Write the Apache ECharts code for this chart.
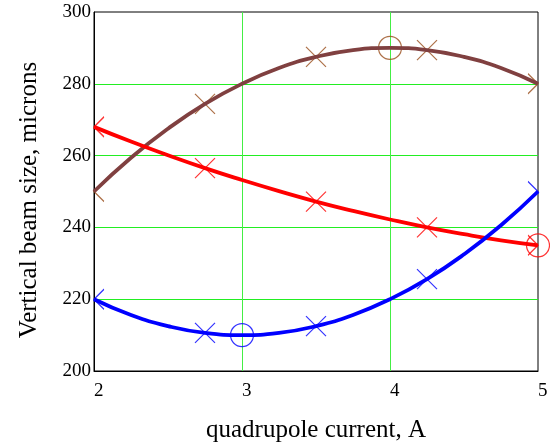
<!DOCTYPE html>
<html>
<head>
<meta charset="utf-8">
<script src="https://cdn.jsdelivr.net/npm/echarts@6/dist/echarts.min.js"></script>
<style>
  html, body { margin: 0; padding: 0; background: #fff; }
  #chart { width: 550px; height: 443px; }
</style>
</head>
<body>
<div id="chart"></div>
<script>
// curve samples, every 0.25 A
const current = [2, 2.25, 2.5, 2.75, 3, 3.25, 3.5, 3.75, 4, 4.25, 4.5, 4.75, 5];
const brownSize = [250, 259.4, 267.5, 274.4, 280, 284.4, 287.5, 289.4, 290, 289.4, 287.5, 284.4, 280];
const redSize = [268, 263.9, 260.1, 256.5, 253.2, 250.1, 247.2, 244.6, 242.2, 240, 238.1, 236.4, 235];
const blueSize = [220, 215.6, 212.5, 210.6, 210, 210.6, 212.5, 215.6, 220, 225.6, 232.5, 240.6, 250];

// cross markers
const markCurrent = [2, 2.75, 3.5, 4.25, 5];
const brownMarks = [250, 274.4, 287.5, 289.4, 280];
const redMarks = [268, 256.5, 247.2, 240, 235];
const blueMarks = [220, 210.6, 212.5, 225.6, 250];

// circled extreme points [current, size]
const brownExt = [4, 290];
const redExt = [5, 235];
const blueExt = [3, 210];

const yTicks = [200, 220, 240, 260, 280, 300];

const FONT = "'Liberation Serif', 'Times New Roman', serif";
const CROSS = 'path://M0,0L20,20M20,0L0,20';
const LEFT_HALF = 'path://M10,0L0,10L10,20';
const RIGHT_HALF = 'path://M0,0L10,10L0,20';

const zip = (xs, ys) => xs.map((x, i) => [x, ys[i]]);

function curve(ys, color) {
  return {
    type: 'line',
    data: zip(current, ys),
    smooth: true,
    showSymbol: false,
    silent: true,
    lineStyle: { color, width: 3.8 },
    z: 3,
  };
}

function marks(ys, ext, color) {
  const pts = zip(markCurrent, ys).map((p, i) => {
    if (i === 0) return { value: p, symbol: LEFT_HALF, symbolSize: [10, 20], symbolOffset: [5, 0] };
    if (i === markCurrent.length - 1) return { value: p, symbol: RIGHT_HALF, symbolSize: [10, 20], symbolOffset: [-5, 0] };
    return { value: p };
  });
  pts.push({ value: ext, symbol: 'circle', symbolSize: 23 });
  return {
    type: 'scatter',
    data: pts,
    symbol: CROSS,
    symbolSize: 20,
    silent: true,
    itemStyle: { color: 'none', borderColor: color, borderWidth: 1.2 },
    z: 2,
  };
}

const chart = echarts.init(document.getElementById('chart'));
chart.setOption({
  animation: false,
  grid: {
    left: 94, right: 12, top: 12, bottom: 72,
    outerBoundsMode: 'none',
    show: true, borderColor: '#000', borderWidth: 1,
  },
  xAxis: {
    type: 'value',
    min: 2, max: 5, interval: 1,
    name: 'quadrupole current, A',
    nameLocation: 'middle',
    nameGap: 47,
    nameTextStyle: { fontFamily: FONT, fontSize: 25, color: '#000' },
    axisLine: { lineStyle: { color: '#000' } },
    axisTick: { show: false },
    axisLabel: { fontFamily: FONT, fontSize: 19, color: '#000', align: 'left', margin: 11 },
    splitLine: { lineStyle: { color: '#44ee44' }, showMinLine: false, showMaxLine: false },
  },
  yAxis: {
    type: 'value',
    min: yTicks[0], max: yTicks[yTicks.length - 1], interval: 20,
    name: 'Vertical beam size, microns',
    nameLocation: 'middle',
    nameGap: 52,
    nameTextStyle: { fontFamily: FONT, fontSize: 25, color: '#000', padding: [0, 17, 0, 0] },
    axisLine: { lineStyle: { color: '#000' } },
    axisTick: { show: false },
    axisLabel: { fontFamily: FONT, fontSize: 19, color: '#000', margin: 3 },
    splitLine: { lineStyle: { color: '#22ee22' }, showMinLine: false, showMaxLine: false },
  },
  series: [
    curve(brownSize, '#804040'),
    curve(redSize, '#ff0000'),
    curve(blueSize, '#0000ff'),
    marks(brownMarks, brownExt, '#994c1a'),
    marks(redMarks, redExt, '#ff0000'),
    marks(blueMarks, blueExt, '#0000ff'),
  ],
});
</script>
</body>
</html>
